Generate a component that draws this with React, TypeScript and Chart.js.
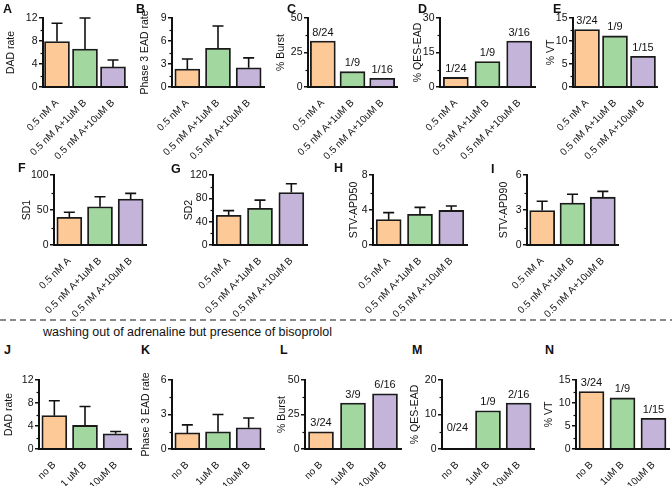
import React, { useEffect, useRef } from "react";
import { Chart, registerables } from "chart.js";

Chart.register(...registerables);

const FONT = "'Liberation Sans', Arial, Helvetica, sans-serif";
Chart.defaults.font.family = FONT;

// ---------------- data ----------------
const groupsAdr = ["0.5 nM A", "0.5 nM A+1uM B", "0.5 nM A+10uM B"];
const groupsWashJ = ["no B", "1 uM B", "10uM B"];
const groupsWash = ["no B", "1uM B", "10uM B"];

const dadRateAdr = [7.9, 6.6, 3.5];
const dadRateAdrUpper = [11.1, 12.0, 4.7];
const ead3Adr = [2.35, 5.05, 2.5];
const ead3AdrUpper = [3.65, 7.95, 3.8];
const burstAdr = [33.3, 11.1, 6.25];
const burstAdrCounts = ["8/24", "1/9", "1/16"];
const qesAdr = [4.17, 11.1, 20];
const qesAdrCounts = ["1/24", "1/9", "3/16"];
const vtAdr = [12.5, 11.1, 6.67];
const vtAdrCounts = ["3/24", "1/9", "1/15"];

const sd1 = [39.5, 54.7, 65.7];
const sd1Upper = [46.7, 69, 73.8];
const sd2 = [51, 63, 90];
const sd2Upper = [59, 77, 105];
const stvApd50 = [2.9, 3.5, 3.95];
const stvApd50Upper = [3.7, 4.3, 4.45];
const stvApd90 = [2.95, 3.6, 4.1];
const stvApd90Upper = [3.75, 4.35, 4.6];

const dadRateWash = [5.8, 4.1, 2.65];
const dadRateWashUpper = [8.4, 7.4, 3.05];
const ead3Wash = [1.4, 1.5, 1.85];
const ead3WashUpper = [2.1, 3.0, 2.7];
const burstWash = [12.5, 33.3, 40];
const burstWashCounts = ["3/24", "3/9", "6/16"];
const qesWash = [0, 11.1, 13.3];
const qesWashCounts = ["0/24", "1/9", "2/16"];
const vtWash = [12.5, 11.1, 6.67];
const vtWashCounts = ["3/24", "1/9", "1/15"];

const headerText = "washing out of adrenaline but presence of bisoprolol";

// ---------------- styles / layout ----------------
const COLORS = ["#FDC997", "#A2D8A0", "#C4B4DA"];
const PAD_TOP = 12;
const PAD_RIGHT = 8;

type PanelCfg = {
  letter: string;
  lx: number;
  ly: number;
  title: string;
  labels: string[];
  values: number[];
  upper?: number[];
  counts?: string[];
  max: number;
  step: number;
  L: number;
  w: number;
  topY: number;
  zeroY: number;
  W: number;
  xH: number;
};

const R1 = { topY: 18, zeroY: 87, xH: 72 };
const R2 = { topY: 175, zeroY: 245, xH: 72 };
const R3 = { topY: 380, zeroY: 449, xH: 37 };

const panels: PanelCfg[] = [
  { letter: "A", lx: 3, ly: 2, title: "DAD rate", labels: groupsAdr, values: dadRateAdr, upper: dadRateAdrUpper, max: 12, step: 4, L: 43, w: 84, W: 38, ...R1 },
  { letter: "B", lx: 136, ly: 2, title: "Phase 3 EAD rate", labels: groupsAdr, values: ead3Adr, upper: ead3AdrUpper, max: 9, step: 3, L: 172, w: 92, W: 33, ...R1 },
  { letter: "C", lx: 287, ly: 2, title: "% Burst", labels: groupsAdr, values: burstAdr, counts: burstAdrCounts, max: 50, step: 25, L: 308, w: 89, W: 33, ...R1 },
  { letter: "D", lx: 418, ly: 2, title: "% QES-EAD", labels: groupsAdr, values: qesAdr, counts: qesAdrCounts, max: 30, step: 15, L: 440, w: 95, W: 28, ...R1 },
  { letter: "E", lx: 553, ly: 2, title: "% VT", labels: groupsAdr, values: vtAdr, counts: vtAdrCounts, max: 15, step: 5, L: 573, w: 84, W: 28, ...R1 },

  { letter: "F", lx: 18, ly: 161, title: "SD1", labels: groupsAdr, values: sd1, upper: sd1Upper, max: 100, step: 50, L: 54, w: 92, W: 33, ...R2 },
  { letter: "G", lx: 171, ly: 162, title: "SD2", labels: groupsAdr, values: sd2, upper: sd2Upper, max: 120, step: 40, L: 213, w: 94, W: 30, ...R2 },
  { letter: "H", lx: 334, ly: 161, title: "STV-APD50", labels: groupsAdr, values: stvApd50, upper: stvApd50Upper, max: 8, step: 4, L: 373, w: 94, W: 25, ...R2 },
  { letter: "I", lx: 491, ly: 162, title: "STV-APD90", labels: groupsAdr, values: stvApd90, upper: stvApd90Upper, max: 6, step: 3, L: 527, w: 91, W: 29, ...R2 },

  { letter: "J", lx: 4, ly: 343, title: "DAD rate", labels: groupsWashJ, values: dadRateWash, upper: dadRateWashUpper, max: 12, step: 4, L: 39, w: 92, W: 36, ...R3 },
  { letter: "K", lx: 141, ly: 343, title: "Phase 3 EAD rate", labels: groupsWash, values: ead3Wash, upper: ead3WashUpper, max: 6, step: 3, L: 172, w: 92, W: 32, ...R3 },
  { letter: "L", lx: 280, ly: 343, title: "% Burst", labels: groupsWash, values: burstWash, counts: burstWashCounts, max: 50, step: 25, L: 305, w: 96, W: 29, ...R3 },
  { letter: "M", lx: 412, ly: 343, title: "% QES-EAD", labels: groupsWash, values: qesWash, counts: qesWashCounts, max: 20, step: 10, L: 442, w: 92, W: 33, ...R3 },
  { letter: "N", lx: 545, ly: 343, title: "% VT", labels: groupsWash, values: vtWash, counts: vtWashCounts, max: 15, step: 5, L: 576, w: 93, W: 33, ...R3 },
];

function decorPlugin(p: PanelCfg) {
  return {
    id: "decor",
    afterDatasetsDraw(chart: any) {
      const ctx = chart.ctx as CanvasRenderingContext2D;
      const meta = chart.getDatasetMeta(0);
      const ys = chart.scales.y;
      const area = chart.chartArea;
      ctx.save();
      ctx.strokeStyle = "#111";
      ctx.fillStyle = "#111";
      // error bars (upper only)
      if (p.upper) {
        ctx.lineWidth = 1.6;
        p.upper.forEach((u, i) => {
          const el = meta.data[i];
          const top = ys.getPixelForValue(u);
          ctx.beginPath();
          ctx.moveTo(el.x, el.y);
          ctx.lineTo(el.x, top);
          ctx.moveTo(el.x - 5.5, top);
          ctx.lineTo(el.x + 5.5, top);
          ctx.stroke();
        });
      }
      // count labels above bars
      if (p.counts) {
        ctx.font = `11px ${FONT}`;
        ctx.textAlign = "center";
        ctx.textBaseline = "bottom";
        p.counts.forEach((t, i) => {
          const el = meta.data[i];
          const gap = p.values[i] === 0 ? 16 : 3;
          ctx.fillText(t, el.x, el.y - gap);
        });
      }
      // minor ticks on y axis
      ctx.lineWidth = 1.2;
      const ticks = ys.ticks;
      for (let i = 0; i < ticks.length - 1; i++) {
        const mid = (ticks[i].value + ticks[i + 1].value) / 2;
        const py = Math.round(ys.getPixelForValue(mid)) + 0.5;
        ctx.beginPath();
        ctx.moveTo(area.left - 2.5, py);
        ctx.lineTo(area.left, py);
        ctx.stroke();
      }
      ctx.restore();
    },
  };
}

function Panel({ p }: { p: PanelCfg }) {
  const ref = useRef<HTMLCanvasElement>(null);
  const cw = p.W + p.w + PAD_RIGHT;
  const ch = PAD_TOP + (p.zeroY - p.topY) + p.xH;
  useEffect(() => {
    const canvas = ref.current!;
    const chart = new Chart(canvas, {
      type: "bar",
      data: {
        labels: p.labels,
        datasets: [
          {
            data: p.values,
            backgroundColor: COLORS,
            borderColor: "#1a1a1a",
            borderWidth: 1.8,
            barThickness: 25,
          },
        ],
      },
      options: {
        animation: false,
        responsive: false,
        devicePixelRatio: 1,
        layout: { padding: { top: PAD_TOP, right: PAD_RIGHT, left: 0, bottom: 0 } },
        plugins: {
          legend: { display: false },
          tooltip: { enabled: false },
        },
        scales: {
          x: {
            offset: true,
            grid: { display: false },
            border: { display: true, color: "#111", width: 2, z: 1 },
            ticks: {
              autoSkip: false,
              maxRotation: 45,
              minRotation: 45,
              padding: 2,
              color: "#111",
              font: { size: 10, family: FONT },
            },
            afterFit: (s: any) => {
              s.height = p.xH;
            },
          },
          y: {
            min: 0,
            max: p.max,
            grid: {
              display: true,
              drawOnChartArea: false,
              drawTicks: true,
              tickLength: 4,
              color: "#111",
              lineWidth: 1.5,
            },
            border: { display: true, color: "#111", width: 2, z: 1 },
            ticks: {
              stepSize: p.step,
              padding: 1.5,
              color: "#111",
              font: { size: 10.5, family: FONT },
            },
            title: {
              display: true,
              text: p.title,
              color: "#111",
              font: { size: 10.5, family: FONT },
              padding: 0,
            },
            afterFit: (s: any) => {
              s.width = p.W;
            },
          },
        },
      } as any,
      plugins: [decorPlugin(p)],
    });
    return () => chart.destroy();
  }, []);
  return (
    <canvas
      ref={ref}
      width={cw}
      height={ch}
      style={{
        position: "absolute",
        left: p.L - p.W,
        top: p.topY - PAD_TOP,
        width: cw,
        height: ch,
      }}
    />
  );
}

export default function App() {
  return (
    <div
      style={{
        position: "absolute",
        left: 0,
        top: 0,
        width: 672,
        height: 486,
        overflow: "hidden",
        background: "#fff",
        fontFamily: FONT,
      }}
    >
      {panels.map((p) => (
        <Panel key={p.letter} p={p} />
      ))}
      {panels.map((p) => (
        <div
          key={"l" + p.letter}
          style={{
            position: "absolute",
            left: p.lx,
            top: p.ly,
            fontSize: 12.5,
            fontWeight: 700,
            lineHeight: "14px",
            color: "#111",
          }}
        >
          {p.letter}
        </div>
      ))}
      <div
        style={{
          position: "absolute",
          left: 0,
          top: 319,
          width: 672,
          height: 2,
          background: "repeating-linear-gradient(to right, #8a8a8a 0 6px, transparent 6px 10px)",
        }}
      />
      <div
        style={{
          position: "absolute",
          left: 43,
          top: 324,
          fontSize: 12.5,
          lineHeight: "16px",
          color: "#111",
          whiteSpace: "nowrap",
        }}
      >
        {headerText}
      </div>
    </div>
  );
}
